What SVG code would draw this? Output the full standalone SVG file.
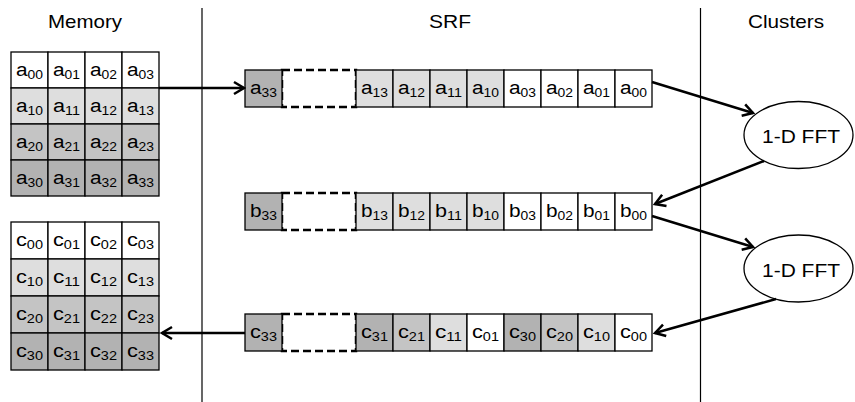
<svg xmlns="http://www.w3.org/2000/svg" width="855" height="402" viewBox="0 0 855 402">
<style>
.c{stroke:#000;stroke-width:1.3}
.w{fill:#fff}.l{fill:#dedede}.m{fill:#c4c4c4}.d{fill:#b2b2b2}
.t{font-family:"Liberation Sans",Arial,sans-serif;font-size:18px;text-anchor:middle;fill:#000}
.s{font-size:12px}
.h{font-family:"Liberation Sans",Arial,sans-serif;font-size:18.5px;text-anchor:middle;fill:#000}
.dash{fill:#fff;stroke:#000;stroke-width:2.5;stroke-dasharray:8 4}
.sep{stroke:#000;stroke-width:1.2}
.ar{fill:none;stroke:#000;stroke-width:2.5}
.el{fill:#fff;stroke:#000;stroke-width:1.3}
</style>
<defs>
<marker id="ah" markerUnits="userSpaceOnUse" markerWidth="14" markerHeight="16" viewBox="0 0 14 16" refX="12" refY="8" orient="auto">
<path d="M2,2 L12,8 L2,14" fill="none" stroke="#000" stroke-width="2.5"/>
</marker>
</defs>
<rect width="855" height="402" fill="#fff"/>
<g id="titles">
<text class="h" x="85" y="28" textLength="74" lengthAdjust="spacingAndGlyphs">Memory</text>
<text class="h" x="450" y="28" textLength="42" lengthAdjust="spacingAndGlyphs">SRF</text>
<text class="h" x="786" y="28" textLength="76" lengthAdjust="spacingAndGlyphs">Clusters</text>
</g>
<g id="separators">
<line class="sep" x1="202" y1="8" x2="202" y2="402"/>
<line class="sep" x1="700.5" y1="8" x2="700.5" y2="402"/>
</g>
<g id="memory-a">
<rect class="c w" x="11" y="52" width="37" height="36"/><rect class="c w" x="48" y="52" width="37" height="36"/><rect class="c w" x="85" y="52" width="37" height="36"/><rect class="c w" x="122" y="52" width="37" height="36"/>
<rect class="c l" x="11" y="88" width="37" height="36"/><rect class="c l" x="48" y="88" width="37" height="36"/><rect class="c l" x="85" y="88" width="37" height="36"/><rect class="c l" x="122" y="88" width="37" height="36"/>
<rect class="c m" x="11" y="124" width="37" height="36"/><rect class="c m" x="48" y="124" width="37" height="36"/><rect class="c m" x="85" y="124" width="37" height="36"/><rect class="c m" x="122" y="124" width="37" height="36"/>
<rect class="c d" x="11" y="160" width="37" height="36"/><rect class="c d" x="48" y="160" width="37" height="36"/><rect class="c d" x="85" y="160" width="37" height="36"/><rect class="c d" x="122" y="160" width="37" height="36"/>
<text class="t" x="29.5" y="76" textLength="27" lengthAdjust="spacingAndGlyphs">a<tspan class="s" dy="3">00</tspan></text>
<text class="t" x="66.5" y="76" textLength="27" lengthAdjust="spacingAndGlyphs">a<tspan class="s" dy="3">01</tspan></text>
<text class="t" x="103.5" y="76" textLength="27" lengthAdjust="spacingAndGlyphs">a<tspan class="s" dy="3">02</tspan></text>
<text class="t" x="140.5" y="76" textLength="27" lengthAdjust="spacingAndGlyphs">a<tspan class="s" dy="3">03</tspan></text>
<text class="t" x="29.5" y="112" textLength="27" lengthAdjust="spacingAndGlyphs">a<tspan class="s" dy="3">10</tspan></text>
<text class="t" x="66.5" y="112" textLength="27" lengthAdjust="spacingAndGlyphs">a<tspan class="s" dy="3">11</tspan></text>
<text class="t" x="103.5" y="112" textLength="27" lengthAdjust="spacingAndGlyphs">a<tspan class="s" dy="3">12</tspan></text>
<text class="t" x="140.5" y="112" textLength="27" lengthAdjust="spacingAndGlyphs">a<tspan class="s" dy="3">13</tspan></text>
<text class="t" x="29.5" y="148" textLength="27" lengthAdjust="spacingAndGlyphs">a<tspan class="s" dy="3">20</tspan></text>
<text class="t" x="66.5" y="148" textLength="27" lengthAdjust="spacingAndGlyphs">a<tspan class="s" dy="3">21</tspan></text>
<text class="t" x="103.5" y="148" textLength="27" lengthAdjust="spacingAndGlyphs">a<tspan class="s" dy="3">22</tspan></text>
<text class="t" x="140.5" y="148" textLength="27" lengthAdjust="spacingAndGlyphs">a<tspan class="s" dy="3">23</tspan></text>
<text class="t" x="29.5" y="184" textLength="27" lengthAdjust="spacingAndGlyphs">a<tspan class="s" dy="3">30</tspan></text>
<text class="t" x="66.5" y="184" textLength="27" lengthAdjust="spacingAndGlyphs">a<tspan class="s" dy="3">31</tspan></text>
<text class="t" x="103.5" y="184" textLength="27" lengthAdjust="spacingAndGlyphs">a<tspan class="s" dy="3">32</tspan></text>
<text class="t" x="140.5" y="184" textLength="27" lengthAdjust="spacingAndGlyphs">a<tspan class="s" dy="3">33</tspan></text>
</g>
<g id="memory-c">
<rect class="c w" x="11" y="222" width="37" height="37"/><rect class="c w" x="48" y="222" width="37" height="37"/><rect class="c w" x="85" y="222" width="37" height="37"/><rect class="c w" x="122" y="222" width="37" height="37"/>
<rect class="c l" x="11" y="259" width="37" height="37"/><rect class="c l" x="48" y="259" width="37" height="37"/><rect class="c l" x="85" y="259" width="37" height="37"/><rect class="c l" x="122" y="259" width="37" height="37"/>
<rect class="c m" x="11" y="296" width="37" height="37"/><rect class="c m" x="48" y="296" width="37" height="37"/><rect class="c m" x="85" y="296" width="37" height="37"/><rect class="c m" x="122" y="296" width="37" height="37"/>
<rect class="c d" x="11" y="333" width="37" height="37"/><rect class="c d" x="48" y="333" width="37" height="37"/><rect class="c d" x="85" y="333" width="37" height="37"/><rect class="c d" x="122" y="333" width="37" height="37"/>
<text class="t" x="29.5" y="246" textLength="27" lengthAdjust="spacingAndGlyphs">c<tspan class="s" dy="3">00</tspan></text>
<text class="t" x="66.5" y="246" textLength="27" lengthAdjust="spacingAndGlyphs">c<tspan class="s" dy="3">01</tspan></text>
<text class="t" x="103.5" y="246" textLength="27" lengthAdjust="spacingAndGlyphs">c<tspan class="s" dy="3">02</tspan></text>
<text class="t" x="140.5" y="246" textLength="27" lengthAdjust="spacingAndGlyphs">c<tspan class="s" dy="3">03</tspan></text>
<text class="t" x="29.5" y="283" textLength="27" lengthAdjust="spacingAndGlyphs">c<tspan class="s" dy="3">10</tspan></text>
<text class="t" x="66.5" y="283" textLength="27" lengthAdjust="spacingAndGlyphs">c<tspan class="s" dy="3">11</tspan></text>
<text class="t" x="103.5" y="283" textLength="27" lengthAdjust="spacingAndGlyphs">c<tspan class="s" dy="3">12</tspan></text>
<text class="t" x="140.5" y="283" textLength="27" lengthAdjust="spacingAndGlyphs">c<tspan class="s" dy="3">13</tspan></text>
<text class="t" x="29.5" y="320" textLength="27" lengthAdjust="spacingAndGlyphs">c<tspan class="s" dy="3">20</tspan></text>
<text class="t" x="66.5" y="320" textLength="27" lengthAdjust="spacingAndGlyphs">c<tspan class="s" dy="3">21</tspan></text>
<text class="t" x="103.5" y="320" textLength="27" lengthAdjust="spacingAndGlyphs">c<tspan class="s" dy="3">22</tspan></text>
<text class="t" x="140.5" y="320" textLength="27" lengthAdjust="spacingAndGlyphs">c<tspan class="s" dy="3">23</tspan></text>
<text class="t" x="29.5" y="357" textLength="27" lengthAdjust="spacingAndGlyphs">c<tspan class="s" dy="3">30</tspan></text>
<text class="t" x="66.5" y="357" textLength="27" lengthAdjust="spacingAndGlyphs">c<tspan class="s" dy="3">31</tspan></text>
<text class="t" x="103.5" y="357" textLength="27" lengthAdjust="spacingAndGlyphs">c<tspan class="s" dy="3">32</tspan></text>
<text class="t" x="140.5" y="357" textLength="27" lengthAdjust="spacingAndGlyphs">c<tspan class="s" dy="3">33</tspan></text>
</g>
<g id="srf-a">
<rect class="dash" x="282" y="70" width="74" height="37"/>
<rect class="c d" x="245" y="70" width="37" height="37"/>
<rect class="c l" x="356" y="70" width="37" height="37"/><rect class="c l" x="393" y="70" width="37" height="37"/><rect class="c l" x="430" y="70" width="37" height="37"/><rect class="c l" x="467" y="70" width="37" height="37"/>
<rect class="c w" x="504" y="70" width="37" height="37"/><rect class="c w" x="541" y="70" width="37" height="37"/><rect class="c w" x="578" y="70" width="37" height="37"/><rect class="c w" x="615" y="70" width="37" height="37"/>
<text class="t" x="263.5" y="94" textLength="27" lengthAdjust="spacingAndGlyphs">a<tspan class="s" dy="3">33</tspan></text>
<text class="t" x="374.5" y="94" textLength="27" lengthAdjust="spacingAndGlyphs">a<tspan class="s" dy="3">13</tspan></text>
<text class="t" x="411.5" y="94" textLength="27" lengthAdjust="spacingAndGlyphs">a<tspan class="s" dy="3">12</tspan></text>
<text class="t" x="448.5" y="94" textLength="27" lengthAdjust="spacingAndGlyphs">a<tspan class="s" dy="3">11</tspan></text>
<text class="t" x="485.5" y="94" textLength="27" lengthAdjust="spacingAndGlyphs">a<tspan class="s" dy="3">10</tspan></text>
<text class="t" x="522.5" y="94" textLength="27" lengthAdjust="spacingAndGlyphs">a<tspan class="s" dy="3">03</tspan></text>
<text class="t" x="559.5" y="94" textLength="27" lengthAdjust="spacingAndGlyphs">a<tspan class="s" dy="3">02</tspan></text>
<text class="t" x="596.5" y="94" textLength="27" lengthAdjust="spacingAndGlyphs">a<tspan class="s" dy="3">01</tspan></text>
<text class="t" x="633.5" y="94" textLength="27" lengthAdjust="spacingAndGlyphs">a<tspan class="s" dy="3">00</tspan></text>
</g>
<g id="srf-b">
<rect class="dash" x="282" y="193" width="74" height="37"/>
<rect class="c d" x="245" y="193" width="37" height="37"/>
<rect class="c l" x="356" y="193" width="37" height="37"/><rect class="c l" x="393" y="193" width="37" height="37"/><rect class="c l" x="430" y="193" width="37" height="37"/><rect class="c l" x="467" y="193" width="37" height="37"/>
<rect class="c w" x="504" y="193" width="37" height="37"/><rect class="c w" x="541" y="193" width="37" height="37"/><rect class="c w" x="578" y="193" width="37" height="37"/><rect class="c w" x="615" y="193" width="37" height="37"/>
<text class="t" x="263.5" y="217" textLength="27" lengthAdjust="spacingAndGlyphs">b<tspan class="s" dy="3">33</tspan></text>
<text class="t" x="374.5" y="217" textLength="27" lengthAdjust="spacingAndGlyphs">b<tspan class="s" dy="3">13</tspan></text>
<text class="t" x="411.5" y="217" textLength="27" lengthAdjust="spacingAndGlyphs">b<tspan class="s" dy="3">12</tspan></text>
<text class="t" x="448.5" y="217" textLength="27" lengthAdjust="spacingAndGlyphs">b<tspan class="s" dy="3">11</tspan></text>
<text class="t" x="485.5" y="217" textLength="27" lengthAdjust="spacingAndGlyphs">b<tspan class="s" dy="3">10</tspan></text>
<text class="t" x="522.5" y="217" textLength="27" lengthAdjust="spacingAndGlyphs">b<tspan class="s" dy="3">03</tspan></text>
<text class="t" x="559.5" y="217" textLength="27" lengthAdjust="spacingAndGlyphs">b<tspan class="s" dy="3">02</tspan></text>
<text class="t" x="596.5" y="217" textLength="27" lengthAdjust="spacingAndGlyphs">b<tspan class="s" dy="3">01</tspan></text>
<text class="t" x="633.5" y="217" textLength="27" lengthAdjust="spacingAndGlyphs">b<tspan class="s" dy="3">00</tspan></text>
</g>
<g id="srf-c">
<rect class="dash" x="282" y="314" width="74" height="37"/>
<rect class="c d" x="245" y="314" width="37" height="37"/>
<rect class="c d" x="356" y="314" width="37" height="37"/><rect class="c m" x="393" y="314" width="37" height="37"/><rect class="c l" x="430" y="314" width="37" height="37"/><rect class="c w" x="467" y="314" width="37" height="37"/>
<rect class="c d" x="504" y="314" width="37" height="37"/><rect class="c m" x="541" y="314" width="37" height="37"/><rect class="c l" x="578" y="314" width="37" height="37"/><rect class="c w" x="615" y="314" width="37" height="37"/>
<text class="t" x="263.5" y="338" textLength="27" lengthAdjust="spacingAndGlyphs">c<tspan class="s" dy="3">33</tspan></text>
<text class="t" x="374.5" y="338" textLength="27" lengthAdjust="spacingAndGlyphs">c<tspan class="s" dy="3">31</tspan></text>
<text class="t" x="411.5" y="338" textLength="27" lengthAdjust="spacingAndGlyphs">c<tspan class="s" dy="3">21</tspan></text>
<text class="t" x="448.5" y="338" textLength="27" lengthAdjust="spacingAndGlyphs">c<tspan class="s" dy="3">11</tspan></text>
<text class="t" x="485.5" y="338" textLength="27" lengthAdjust="spacingAndGlyphs">c<tspan class="s" dy="3">01</tspan></text>
<text class="t" x="522.5" y="338" textLength="27" lengthAdjust="spacingAndGlyphs">c<tspan class="s" dy="3">30</tspan></text>
<text class="t" x="559.5" y="338" textLength="27" lengthAdjust="spacingAndGlyphs">c<tspan class="s" dy="3">20</tspan></text>
<text class="t" x="596.5" y="338" textLength="27" lengthAdjust="spacingAndGlyphs">c<tspan class="s" dy="3">10</tspan></text>
<text class="t" x="633.5" y="338" textLength="27" lengthAdjust="spacingAndGlyphs">c<tspan class="s" dy="3">00</tspan></text>
</g>
<g id="fft-1">
<ellipse class="el" cx="798.5" cy="135" rx="54.5" ry="33.5"/>
<text class="h" x="801" y="143" textLength="78" lengthAdjust="spacingAndGlyphs">1-D FFT</text>
</g>
<g id="fft-2">
<ellipse class="el" cx="798.5" cy="268.5" rx="54.5" ry="33.5"/>
<text class="h" x="801" y="276.5" textLength="78" lengthAdjust="spacingAndGlyphs">1-D FFT</text>
</g>
<g id="connectors">
<line class="ar" x1="159" y1="88" x2="244" y2="88" marker-end="url(#ah)"/>
<line class="ar" x1="652" y1="82" x2="753" y2="113" marker-end="url(#ah)"/>
<line class="ar" x1="764" y1="161" x2="655" y2="204" marker-end="url(#ah)"/>
<line class="ar" x1="652" y1="216" x2="753" y2="247" marker-end="url(#ah)"/>
<line class="ar" x1="776" y1="299" x2="655" y2="333" marker-end="url(#ah)"/>
<line class="ar" x1="245" y1="333" x2="162" y2="333" marker-end="url(#ah)"/>
</g>
</svg>
